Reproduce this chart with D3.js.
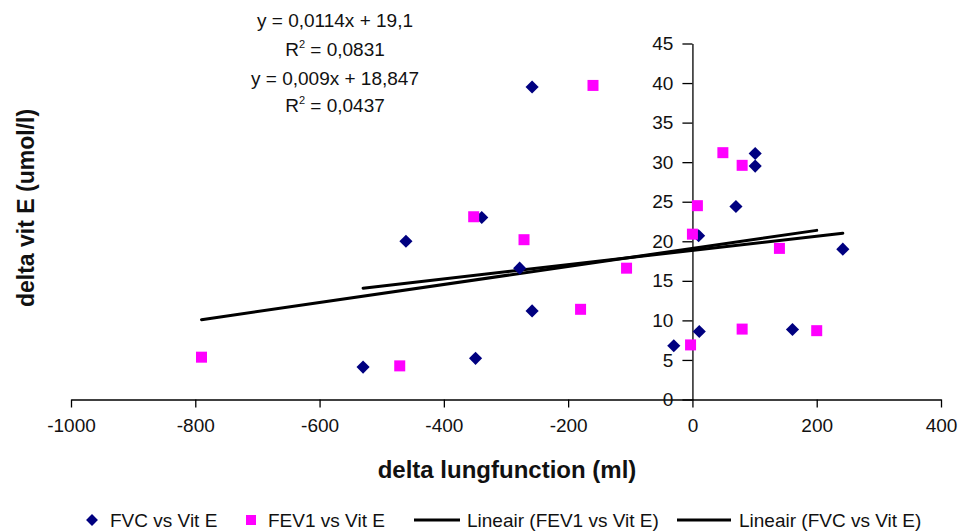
<!DOCTYPE html>
<html><head><meta charset="utf-8">
<script src="https://cdn.jsdelivr.net/npm/d3@7"></script>
<style>body{margin:0;background:#fff}svg{display:block}text{font-family:"Liberation Sans",Arial,sans-serif}</style>
</head><body>
<svg id="c" width="958" height="531"></svg>
<script>
const fvcX = [-530,-461,-349,-339,-278,-258,-258,-30,10,11,70,101,101,161,242];
const fvcY = [4.1,20.0,5.2,23.0,16.6,11.2,39.5,6.8,20.7,8.6,24.4,31.1,29.5,8.85,19.0];
const fev1X = [-790,-471,-352,-271,-180,-160,-106,-3,0,8,49,80,80,140,200];
const fev1Y = [5.35,4.25,23.1,20.2,11.4,39.7,16.6,6.9,20.9,24.5,31.2,29.6,8.9,19.1,8.7];
const fev1Fit = {slope:0.0114, intercept:19.1, r2:"0,0831", label:"y = 0,0114x + 19,1"};
const fvcFit = {slope:0.009, intercept:18.847, r2:"0,0437", label:"y = 0,009x + 18,847"};
const xTicks = [-1000,-800,-600,-400,-200,0,200,400];
const yTicks = [0,5,10,15,20,25,30,35,40,45];
const FONT = "Liberation Sans, Arial, sans-serif";

const svg = d3.select("#c");
const x = d3.scaleLinear().domain([-1000,400]).range([71,941]);
const y = d3.scaleLinear().domain([0,45]).range([399.5,43.5]);

// x axis
const xa = svg.append("g").attr("transform",`translate(0,${y(0)})`)
  .call(d3.axisBottom(x).tickValues(xTicks).tickFormat(d=>String(d)).tickSize(8).tickSizeOuter(0).tickPadding(11));
xa.select(".domain").attr("stroke","#000").attr("stroke-width",1.3);
xa.selectAll(".tick line").attr("stroke","#000").attr("stroke-width",1.3);
xa.selectAll("text").attr("font-size",19).attr("fill","#111").attr("font-family",FONT);

// y axis
const ya = svg.append("g").attr("transform",`translate(${x(0)},0)`)
  .call(d3.axisLeft(y).tickValues(yTicks).tickFormat(d=>String(d)).tickSize(10).tickSizeOuter(0).tickPadding(9));
ya.select(".domain").attr("stroke","#000").attr("stroke-width",1.3);
ya.selectAll(".tick line").attr("stroke","#000").attr("stroke-width",1.3);
ya.selectAll("text").attr("font-size",19).attr("fill","#111").attr("font-family",FONT);

// trendlines
function fitLine(fit, xs){
  const x0 = d3.min(xs), x1 = d3.max(xs);
  svg.append("line")
    .attr("x1",x(x0)).attr("y1",y(fit.slope*x0+fit.intercept))
    .attr("x2",x(x1)).attr("y2",y(fit.slope*x1+fit.intercept))
    .attr("stroke","#000").attr("stroke-width",3).attr("stroke-linecap","round");
}
fitLine(fev1Fit, fev1X);
fitLine(fvcFit, fvcX);

// FVC diamonds
const diamond = d3.symbol().type(d3.symbolDiamond2).size(110);
svg.append("g").selectAll("path").data(fvcX.map((v,i)=>[v,fvcY[i]])).join("path")
  .attr("d", diamond).attr("transform",d=>`translate(${x(d[0])},${y(d[1])})`).attr("fill","#000080");
// FEV1 squares
svg.append("g").selectAll("rect").data(fev1X.map((v,i)=>[v,fev1Y[i]])).join("rect")
  .attr("x",d=>x(d[0])-5.5).attr("y",d=>y(d[1])-5.5).attr("width",11).attr("height",11).attr("fill","#ff00ff");

// equations
function eq(fit, yy, gap){
  svg.append("text").attr("x",335).attr("y",yy).attr("text-anchor","middle").attr("font-size",19).attr("fill","#111").text(fit.label);
  const t = svg.append("text").attr("x",335).attr("y",yy+gap).attr("text-anchor","middle").attr("font-size",19).attr("fill","#111");
  t.append("tspan").text("R");
  t.append("tspan").attr("font-size",11).attr("dy",-8).text("2");
  t.append("tspan").attr("dy",8).text(" = " + fit.r2);
}
eq(fev1Fit, 27, 29);
eq(fvcFit, 85, 27);

// axis titles
svg.append("text").attr("x",507).attr("y",478).attr("text-anchor","middle").attr("font-size",24).attr("font-weight","bold").attr("fill","#111").text("delta lungfunction (ml)");
svg.append("text").attr("transform","translate(34,208) rotate(-90)").attr("text-anchor","middle").attr("font-size",23).attr("font-weight","bold").attr("fill","#111").text("delta vit E (umol/l)");

// legend
const ly = 520;
const lg = svg.append("g");
lg.append("path").attr("d", d3.symbol().type(d3.symbolDiamond2).size(90)).attr("transform",`translate(92,${ly})`).attr("fill","#000080");
lg.append("text").attr("x",110).attr("y",ly+7).attr("font-size",19).attr("fill","#111").text("FVC vs Vit E");
lg.append("rect").attr("x",246).attr("y",ly-5).attr("width",10).attr("height",10).attr("fill","#ff00ff");
lg.append("text").attr("x",268).attr("y",ly+7).attr("font-size",19).attr("fill","#111").text("FEV1 vs Vit E");
lg.append("line").attr("x1",414).attr("x2",460).attr("y1",ly).attr("y2",ly).attr("stroke","#000").attr("stroke-width",3);
lg.append("text").attr("x",467).attr("y",ly+7).attr("font-size",19).attr("fill","#111").text("Lineair (FEV1 vs Vit E)");
lg.append("line").attr("x1",677).attr("x2",731).attr("y1",ly).attr("y2",ly).attr("stroke","#000").attr("stroke-width",3);
lg.append("text").attr("x",739).attr("y",ly+7).attr("font-size",19).attr("fill","#111").text("Lineair (FVC vs Vit E)");
</script>
</body></html>
